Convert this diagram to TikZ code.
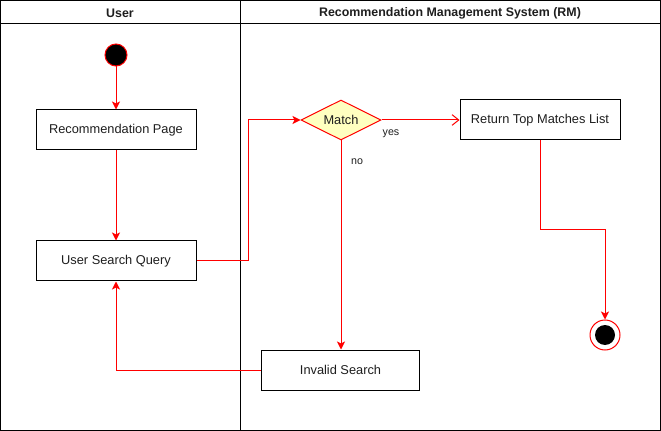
\documentclass[tikz,border=0pt]{standalone}
\usepackage{fontspec}
\setmainfont{Liberation Sans}
\usepackage{tikz}
\usetikzlibrary{shapes.geometric, arrows.meta, positioning, calc}
\definecolor{flowRed}{RGB}{255, 0, 0}
\definecolor{decisionFill}{RGB}{255, 255, 192}
\definecolor{textDark}{RGB}{30, 30, 30}

\begin{document}
\begin{tikzpicture}[
    x=0.75pt, y=-0.75pt,
    line width=0.75pt,
    lane/.style={
        draw=black,
        line width=0.75pt
    },
    header/.style={
        font=\fontsize{9.3}{11}\selectfont\bfseries,
        text=textDark
    },
    activity/.style={
        rectangle,
        draw=black,
        fill=white,
        minimum width=120pt,
        minimum height=30pt,
        text centered,
        font=\fontsize{9.6}{11}\selectfont,
        text=textDark
    },
    decision/.style={
        diamond,
        aspect=2,
        draw=flowRed,
        fill=decisionFill,
        inner sep=0pt,
        minimum width=60pt,
        minimum height=30pt,
        font=\fontsize{9.6}{11}\selectfont,
        text=textDark
    },
    startstate/.style={
        circle,
        draw=flowRed,
        fill=black,
        minimum size=16.5pt,
        inner sep=0pt
    },
    endstate/.style={
        circle,
        draw=flowRed,
        fill=white,
        minimum size=22.5pt,
        inner sep=0pt
    },
    guard/.style={
        font=\fontsize{8}{10}\selectfont,
        text=textDark
    },
    arrow/.style={
        -{Stealth[length=6pt, width=6pt, inset=1.5pt]},
        draw=flowRed
    },
    openarrow/.style={
        -{Straight Barb[length=5pt, width=8pt]},
        draw=flowRed
    }
]
\useasboundingbox (0,0) rectangle (661,431);

% Swimlanes
\draw[lane] (0.5,0.5) rectangle (660.5,430.5);
\draw[lane] (0.5,23.5) -- (660.5,23.5);
\draw[lane] (240.5,0.5) -- (240.5,430.5);
\node[header] (userlane) at (120,13) {User};
\node[header] (rmlane) at (450,13) {Recommendation Management System (RM)};

% User lane
\node[startstate] (start) at (116,55) {};
\node[activity] (recpage) at (116,130) {\raisebox{-2pt}{Recommendation Page}};
\node[activity] (query) at (116,261) {\raisebox{-2pt}{User Search Query}};

% RM lane
\node[decision] (match) at (341,120) {Match};
\node[activity] (topmatches) at (540,120) {\raisebox{-2pt}{Return Top Matches List}};
\node[activity, minimum width=119pt] (invalid) at (340.5,370) {\raisebox{-2pt}{Invalid Search}};
\node[endstate] (finish) at (605,335) {};
\node[circle, fill=black, minimum size=15pt, inner sep=0pt] (finishdot) at (finish) {};

% Guards
\node[guard] (yes) at (391,134) {yes};
\node[guard] (no) at (357,162) {no};

% Arrows
\draw[arrow] (start) -- (recpage);
\draw[arrow] (recpage) -- (query);
\draw[arrow] (query.east) -| (248,120) -- (match.west);
\draw[openarrow] (match.east) -- (topmatches.west);
\draw[arrow] (match.south) -- (match.south |- invalid.north);
\draw[arrow] (invalid.west) -| (query.south);
\draw[arrow] (topmatches.south) -- (540,230) -| (finish.north);

\end{tikzpicture}
\end{document}
